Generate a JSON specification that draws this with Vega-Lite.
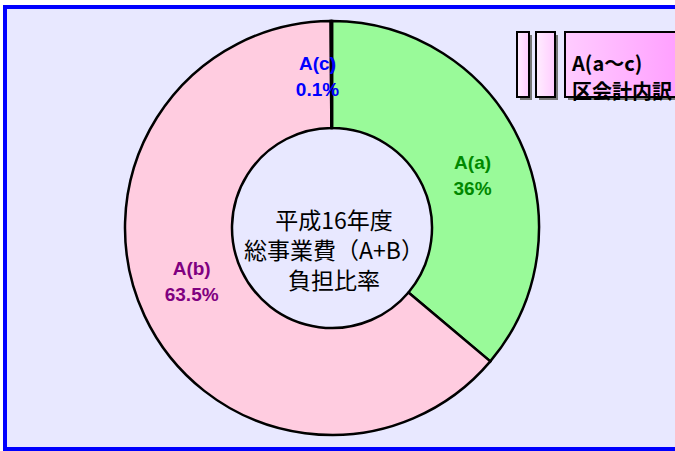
{
  "$schema": "https://vega.github.io/schema/vega-lite/v6.json",
  "width": 670,
  "height": 442,
  "autosize": {"type": "none"},
  "padding": {"left": 5, "top": 7, "right": 0, "bottom": 2},
  "background": "white",
  "view": {"fill": null, "stroke": null},
  "data": {"values": [
    {"category": "A(a)", "share": 36, "label": "A(a)\n36%"},
    {"category": "A(b)", "share": 63.5, "label": "A(b)\n63.5%"},
    {"category": "A(c)", "share": 0.1, "label": "A(c)\n0.1%"}
  ]},
  "layer": [
    {
      "data": {"values": [{"part": "panel"}]},
      "mark": {"type": "rect", "x": 0, "x2": 800, "y": 0, "y2": 442, "fill": "#e8e8ff"},
      "encoding": {}
    },
    {
      "data": {"values": [{"part": "frame-left"}]},
      "mark": {"type": "rect", "x": -2, "x2": 2, "y": -2, "y2": 444, "fill": "#0000ff"},
      "encoding": {}
    },
    {
      "data": {"values": [{"part": "frame-top"}]},
      "mark": {"type": "rect", "x": -2, "x2": 800, "y": -2, "y2": 2, "fill": "#0000ff"},
      "encoding": {}
    },
    {
      "data": {"values": [{"part": "frame-bottom"}]},
      "mark": {"type": "rect", "x": -2, "x2": 800, "y": 440, "y2": 444, "fill": "#0000ff"},
      "encoding": {}
    },
    {
      "mark": {"type": "arc", "x": 327, "y": 221, "outerRadius": 207, "innerRadius": 100, "stroke": "black", "strokeWidth": 2.5},
      "encoding": {
        "theta": {"field": "share", "type": "quantitative", "stack": true},
        "order": {"field": "category", "type": "ordinal"},
        "color": {"field": "category", "type": "nominal", "scale": {"domain": ["A(a)", "A(b)", "A(c)"], "range": ["#99fa99", "#ffcce0", "#9999ff"]}, "legend": null}
      }
    },
    {
      "mark": {"type": "text", "x": 327, "y": 221, "radius": 155, "font": "Liberation Sans", "fontSize": 19, "fontWeight": "bold", "lineBreak": "\n", "lineHeight": 26, "align": "center", "baseline": "middle", "fill": "#008800"},
      "encoding": {
        "theta": {"field": "share", "type": "quantitative", "stack": true},
        "order": {"field": "category", "type": "ordinal"},
        "text": {"condition": {"test": "datum.category === 'A(a)'", "field": "label"}, "value": ""}
      }
    },
    {
      "mark": {"type": "text", "x": 327, "y": 221, "radius": 155, "dy": -25, "font": "Liberation Sans", "fontSize": 19, "fontWeight": "bold", "lineBreak": "\n", "lineHeight": 26, "align": "center", "baseline": "middle", "fill": "#800080"},
      "encoding": {
        "theta": {"field": "share", "type": "quantitative", "stack": true},
        "order": {"field": "category", "type": "ordinal"},
        "text": {"condition": {"test": "datum.category === 'A(b)'", "field": "label"}, "value": ""}
      }
    },
    {
      "mark": {"type": "text", "x": 327, "y": 221, "radius": 155, "dx": -14, "dy": -9, "font": "Liberation Sans", "fontSize": 19, "fontWeight": "bold", "lineBreak": "\n", "lineHeight": 26, "align": "center", "baseline": "middle", "fill": "#0000ff"},
      "encoding": {
        "theta": {"field": "share", "type": "quantitative", "stack": true},
        "order": {"field": "category", "type": "ordinal"},
        "text": {"condition": {"test": "datum.category === 'A(c)'", "field": "label"}, "value": ""}
      }
    },
    {
      "data": {"values": [{"title": "平成16年度\n総事業費（A+B）\n負担比率"}]},
      "mark": {"type": "text", "x": 329, "y": 214.5, "font": "Noto Sans CJK JP", "fontSize": 23, "lineBreak": "\n", "lineHeight": 30, "align": "center", "baseline": "middle", "fill": "black"},
      "encoding": {"text": {"field": "title", "type": "nominal"}}
    },
    {
      "data": {"values": [{"part": "shadow"}]},
      "mark": {"type": "rect", "x": 515, "x2": 527, "y": 28, "y2": 93, "fill": "#777777"},
      "encoding": {}
    },
    {
      "data": {"values": [{"part": "shadow"}]},
      "mark": {"type": "rect", "x": 534, "x2": 553, "y": 28, "y2": 93, "fill": "#777777"},
      "encoding": {}
    },
    {
      "data": {"values": [{"part": "shadow"}]},
      "mark": {"type": "rect", "x": 563, "x2": 800, "y": 28, "y2": 93, "fill": "#777777"},
      "encoding": {}
    },
    {
      "data": {"values": [{"part": "bar"}]},
      "mark": {"type": "rect", "x": 512, "x2": 524, "y": 25, "y2": 90, "stroke": "black", "strokeWidth": 2, "fill": {"gradient": "linear", "x1": 0, "x2": 1, "y1": 0, "y2": 0, "stops": [{"offset": 0, "color": "#ffeeff"}, {"offset": 1, "color": "#ffccff"}]}},
      "encoding": {}
    },
    {
      "data": {"values": [{"part": "bar"}]},
      "mark": {"type": "rect", "x": 531, "x2": 550, "y": 25, "y2": 90, "stroke": "black", "strokeWidth": 2, "fill": {"gradient": "linear", "x1": 0, "x2": 1, "y1": 0, "y2": 0, "stops": [{"offset": 0, "color": "#ffeeff"}, {"offset": 1, "color": "#ffccff"}]}},
      "encoding": {}
    },
    {
      "data": {"values": [{"part": "box"}]},
      "mark": {"type": "rect", "x": 560, "x2": 690, "y": 25, "y2": 90, "stroke": "black", "strokeWidth": 2, "fill": {"gradient": "linear", "x1": 0, "x2": 1, "y1": 0, "y2": 0, "stops": [{"offset": 0, "color": "#ffccff"}, {"offset": 1, "color": "#ff99ff"}]}},
      "encoding": {}
    },
    {
      "data": {"values": [{"legend": "A(a〜c)\n区会計内訳"}]},
      "mark": {"type": "text", "x": 567, "y": 57.5, "font": "Noto Sans CJK JP", "fontSize": 20, "fontWeight": "bold", "lineBreak": "\n", "lineHeight": 28, "align": "left", "baseline": "middle", "fill": "black"},
      "encoding": {"text": {"field": "legend", "type": "nominal"}}
    }
  ]
}
